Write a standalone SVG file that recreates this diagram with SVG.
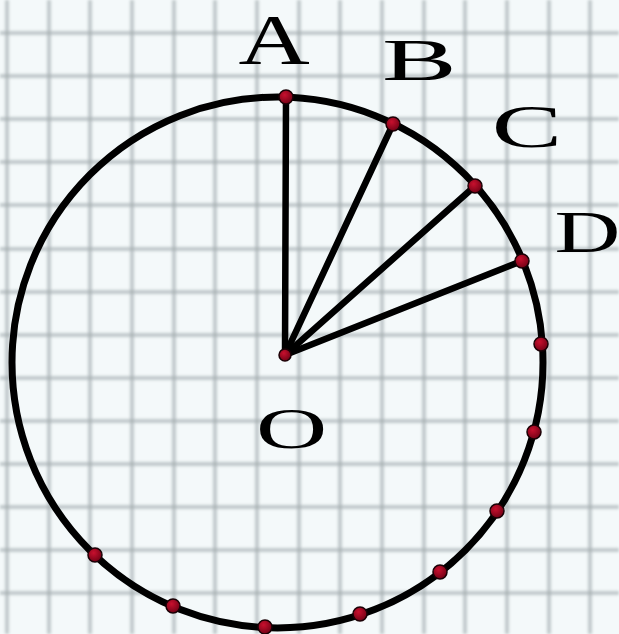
<svg xmlns="http://www.w3.org/2000/svg" width="619" height="634" viewBox="0 0 619 634">
<style>
.grid line{stroke:#a3adb0;stroke-width:3.5;opacity:0.7}
.ray{stroke:#000;stroke-width:6.5;stroke-linecap:round}
.pt{fill:url(#dotg);stroke:#1a0005;stroke-width:1.5}
.lbl{font-family:"Liberation Serif","Times New Roman",serif;fill:#000;text-anchor:middle}
</style>
<defs>
<radialGradient id="dotg" cx="0.4" cy="0.35" r="0.7">
<stop offset="0" stop-color="#c8102e"/>
<stop offset="1" stop-color="#6e0014"/>
</radialGradient>
<filter id="blur" x="-5%" y="-5%" width="110%" height="110%"><feGaussianBlur stdDeviation="1.4"/></filter>
</defs>
<rect width="619" height="634" fill="#f4f9fa"/>
<g class="grid" filter="url(#blur)">
<line x1="7" y1="0" x2="7" y2="634"/>
<line x1="49" y1="0" x2="49" y2="634"/>
<line x1="90" y1="0" x2="90" y2="634"/>
<line x1="132" y1="0" x2="132" y2="634"/>
<line x1="174" y1="0" x2="174" y2="634"/>
<line x1="215" y1="0" x2="215" y2="634"/>
<line x1="257" y1="0" x2="257" y2="634"/>
<line x1="299" y1="0" x2="299" y2="634"/>
<line x1="340" y1="0" x2="340" y2="634"/>
<line x1="382" y1="0" x2="382" y2="634"/>
<line x1="424" y1="0" x2="424" y2="634"/>
<line x1="465" y1="0" x2="465" y2="634"/>
<line x1="507" y1="0" x2="507" y2="634"/>
<line x1="549" y1="0" x2="549" y2="634"/>
<line x1="590" y1="0" x2="590" y2="634"/>
<line x1="0" y1="33" x2="619" y2="33"/>
<line x1="0" y1="76" x2="619" y2="76"/>
<line x1="0" y1="119" x2="619" y2="119"/>
<line x1="0" y1="162" x2="619" y2="162"/>
<line x1="0" y1="205" x2="619" y2="205"/>
<line x1="0" y1="249" x2="619" y2="249"/>
<line x1="0" y1="292" x2="619" y2="292"/>
<line x1="0" y1="335" x2="619" y2="335"/>
<line x1="0" y1="378" x2="619" y2="378"/>
<line x1="0" y1="421" x2="619" y2="421"/>
<line x1="0" y1="464" x2="619" y2="464"/>
<line x1="0" y1="507" x2="619" y2="507"/>
<line x1="0" y1="550" x2="619" y2="550"/>
<line x1="0" y1="593" x2="619" y2="593"/>
</g>
<g id="circle">
<circle cx="277.5" cy="362.5" r="265.5" fill="none" stroke="#000" stroke-width="7"/>
</g>
<g id="connectors">
<line class="ray" x1="285" y1="355" x2="286" y2="97"/>
<line class="ray" x1="285" y1="355" x2="393" y2="124"/>
<line class="ray" x1="285" y1="355" x2="475" y2="186"/>
<line class="ray" x1="285" y1="355" x2="522" y2="261"/>
</g>
<g id="points">
<circle class="pt" cx="286" cy="97" r="7"/>
<circle class="pt" cx="393" cy="124" r="7"/>
<circle class="pt" cx="475" cy="186" r="7"/>
<circle class="pt" cx="522" cy="261" r="7"/>
<circle class="pt" cx="541" cy="344" r="7"/>
<circle class="pt" cx="534" cy="432" r="7"/>
<circle class="pt" cx="497" cy="511" r="7"/>
<circle class="pt" cx="440" cy="572" r="7"/>
<circle class="pt" cx="360" cy="614" r="7"/>
<circle class="pt" cx="265" cy="627" r="7"/>
<circle class="pt" cx="173" cy="606" r="7"/>
<circle class="pt" cx="95" cy="555" r="7"/>
</g>
<g id="O">
<circle class="pt" cx="285" cy="355" r="6"/>
<text class="lbl" font-size="58" transform="translate(291.5,448) scale(1.7,1)">O</text>
</g>
<g id="A"><text class="lbl" font-size="72" transform="translate(274,64) scale(1.37,1)">A</text></g>
<g id="B"><text class="lbl" font-size="59" transform="translate(419.5,80) scale(1.9,1)">B</text></g>
<g id="C"><text class="lbl" font-size="61" transform="translate(527,147) scale(1.73,1)">C</text></g>
<g id="D"><text class="lbl" font-size="60" transform="translate(587.5,252) scale(1.52,1)">D</text></g>
</svg>
